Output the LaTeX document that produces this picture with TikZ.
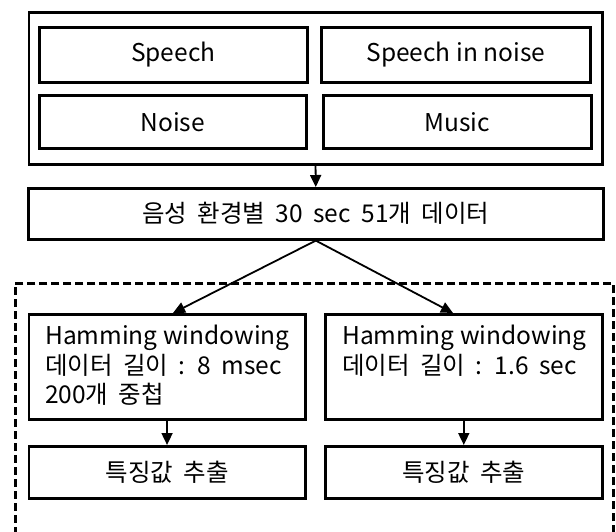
\documentclass[tikz,border=0pt]{standalone}
\usepackage{fontspec}
\setmainfont{Noto Sans CJK KR}
\newfontfamily\krwide[WordSpace=1.9]{Noto Sans CJK KR}
\usetikzlibrary{arrows.meta}
\tikzset{
  x=1pt, y=-1pt,
  box/.style={draw, line width=2.6pt, anchor=north west, inner sep=0pt},
  lbl/.style={font=\fontsize{24.5}{30}\selectfont, inner sep=0pt},
  krlbl/.style={font=\fontsize{24.5}{30}\selectfont\krwide, inner sep=0pt},
  line/.style={lbl, anchor=base west},
  krline/.style={krlbl, anchor=base west},
  arr/.style={line width=1.8pt, -{Triangle[width=11pt,length=12pt]}},
}
\newcommand{\bx}[5]{\node[box, minimum width=#4-#2, minimum height=#5-#3] (#1) at (#2,#3) {};}
\begin{document}
\begin{tikzpicture}
\clip (0,0) rectangle (616,532);
\fill[white] (0,0) rectangle (616,532);
% outer group
\bx{outer}{27.5}{11}{601}{163}
\bx{speech}{38}{26.5}{306}{81}
\bx{sin}{320}{26.5}{589}{81}
\bx{noise}{38}{94}{305}{147}
\bx{music}{322}{94}{590}{147}
\node[lbl] at (speech.center) {Speech};
\node[lbl] at (sin.center) {Speech in noise};
\node[lbl] at (noise.center) {Noise};
\node[lbl] at (music.center) {Music};
% data
\bx{data}{27}{187}{602}{238}
\node[krlbl] at (data.center) {음성 환경별 30 sec 51개 데이터};
% dashed group
\node[draw, dash pattern=on 8pt off 4pt, line width=2.8pt, anchor=north west, inner sep=0pt, minimum width=598, minimum height=300] (grp) at (14,282) {};
% hamming boxes
\bx{hamL}{27.5}{313}{304}{418}
\bx{hamR}{324}{313}{601}{418}
\node[line] (hamL1) at (45,344) {Hamming windowing};
\node[krline] (hamL2) at (45,374) {데이터 길이 : 8 msec};
\node[krline] (hamL3) at (45,403) {200개 중첩};
\node[line] (hamR1) at (342,344) {Hamming windowing};
\node[krline] (hamR2) at (342,374) {데이터 길이 : 1.6 sec};
% feature boxes
\bx{featL}{27.5}{445}{304}{497}
\bx{featR}{324}{445}{601}{497}
\node[krlbl] at (featL.center) {특징값 추출};
\node[krlbl] at (featR.center) {특징값 추출};
% connectors
\draw[arr] (outer.south) -- (data.north);
\coordinate (tipL) at (173,313);
\coordinate (tipR) at (453,313);
\draw[arr] (data.south) -- (tipL);
\draw[arr] (data.south) -- (tipR);
\draw[arr] (hamL.south) -- (featL.north);
\draw[arr] (hamR.south) -- (featR.north);
\end{tikzpicture}
\end{document}
